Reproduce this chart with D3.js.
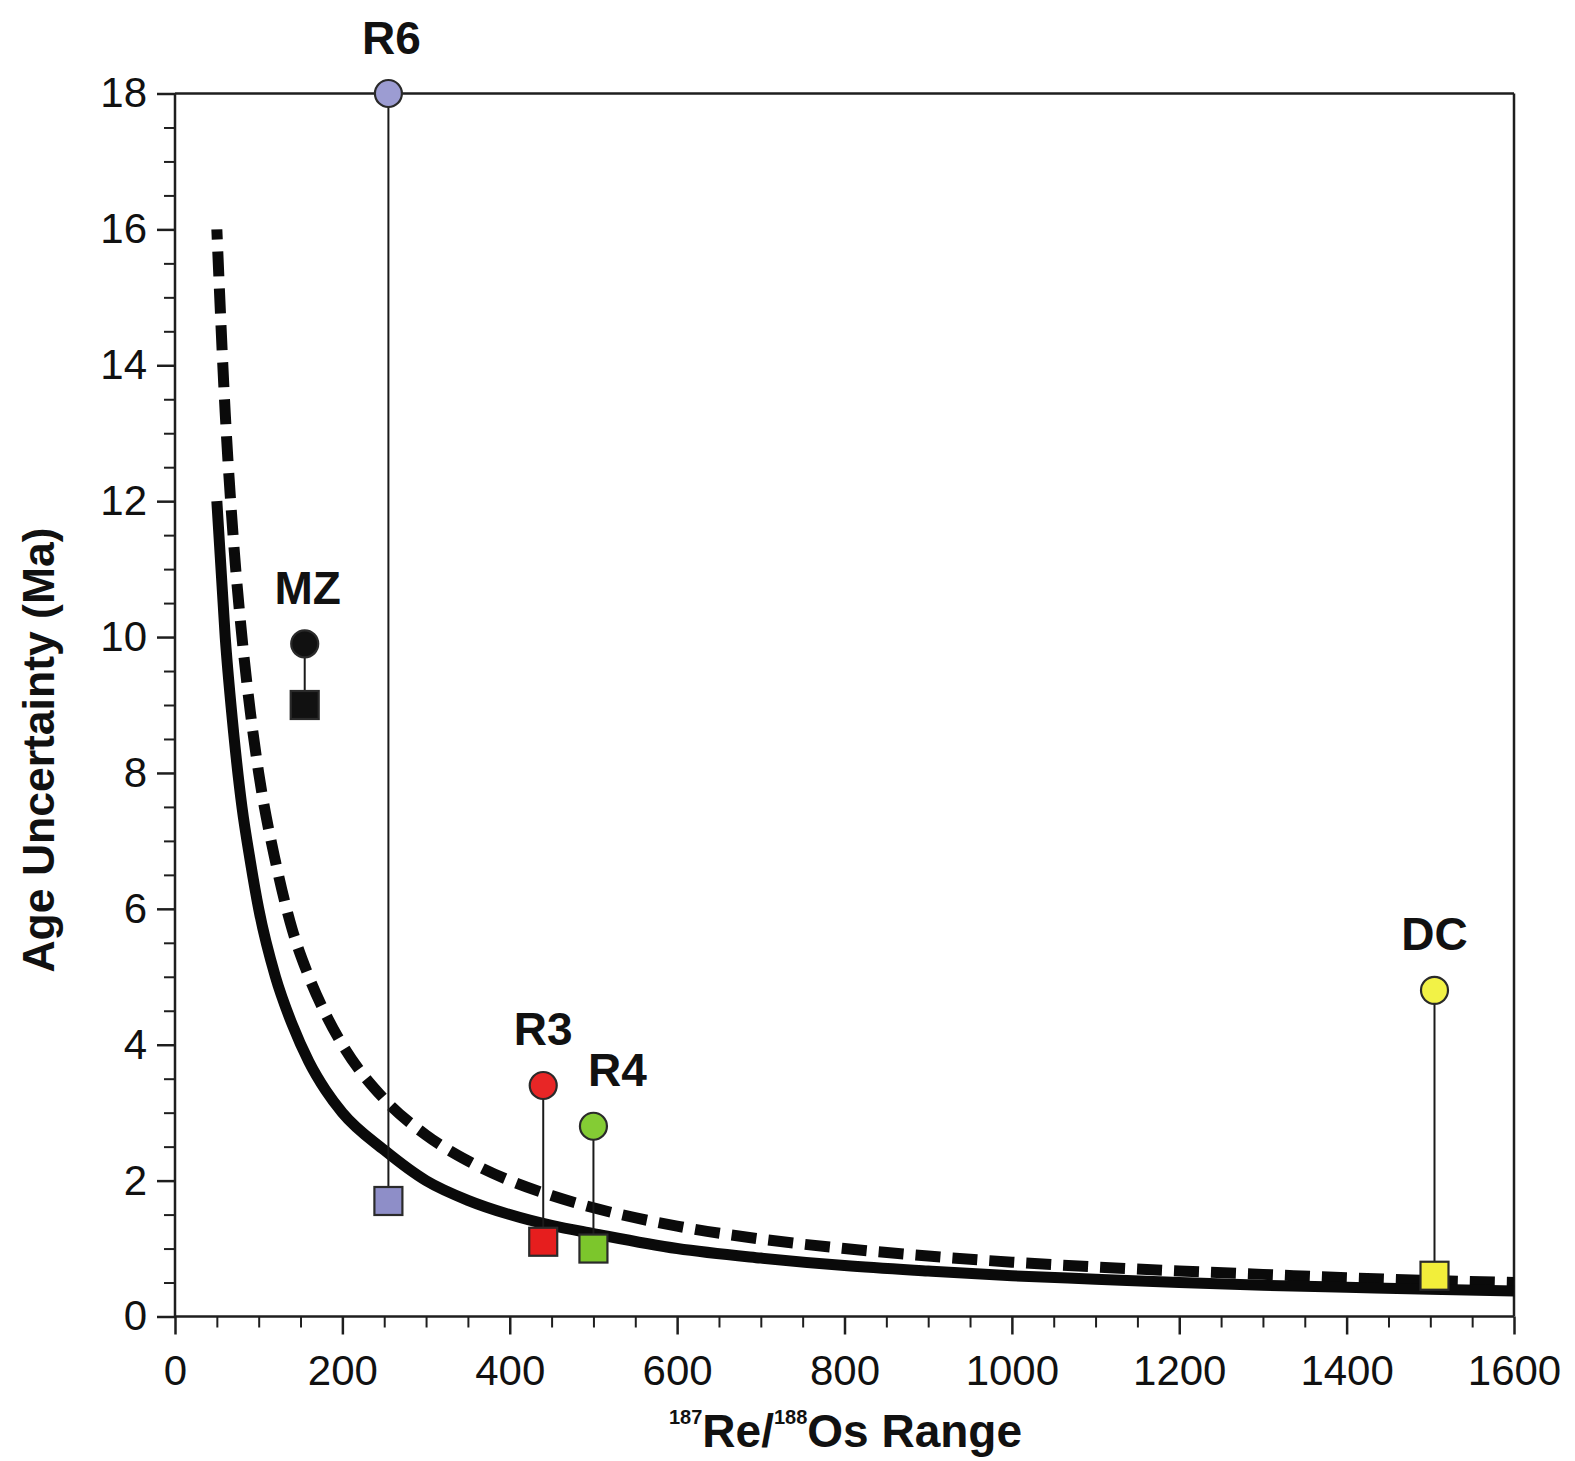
<!DOCTYPE html>
<html>
<head>
<meta charset="utf-8">
<script src="https://cdn.jsdelivr.net/npm/d3@7"></script>
<style>
  html, body { margin: 0; padding: 0; background: #fff; }
  svg { display: block; }
  text { font-family: "Liberation Sans", Arial, Helvetica, sans-serif; fill: #111; }
</style>
</head>
<body>
<svg id="chart" width="1575" height="1461"></svg>
<script>
// 187Re/188Os range values at which the model curves are sampled
const rangeX = [50, 60, 70, 80, 90, 100, 120, 140, 160, 180, 200, 250, 300, 350, 400,
                450, 500, 600, 700, 800, 900, 1000, 1100, 1200, 1300, 1400, 1500, 1600];
// Solid model curve: age uncertainty (Ma)
const solidCurve = [12, 10, 8.6, 7.5, 6.7, 6.0, 5.0, 4.3, 3.75, 3.33, 3.0, 2.45, 2.0, 1.71, 1.5,
                    1.34, 1.22, 1.0, 0.86, 0.75, 0.67, 0.6, 0.55, 0.5, 0.46, 0.43, 0.4, 0.375];
// Dashed model curve: age uncertainty (Ma)
const dashedCurve = [16, 13.3, 11.4, 10, 8.9, 8.0, 6.7, 5.7, 5.0, 4.45, 4.0, 3.2, 2.67, 2.29, 2.0,
                     1.78, 1.6, 1.33, 1.14, 1.0, 0.89, 0.8, 0.73, 0.67, 0.62, 0.57, 0.53, 0.5];

// Sample sets: range, uncertainty shown by circle and by square
const sampleNames   = ["R6", "MZ", "R3", "R4", "DC"];
const sampleRange   = [255, 155, 440, 500, 1505];
const circleAge     = [18, 9.9, 3.4, 2.8, 4.8];
const squareAge     = [1.7, 9.0, 1.1, 1.0, 0.6];
const circleColors  = ["#9c9cd2", "#111111", "#e82626", "#84cc34", "#f2f246"];
const squareColors  = ["#8e8ec8", "#111111", "#e61e1e", "#7cc62c", "#f2ee3a"];

// Axis tick values
const xMajorTicks = [0, 200, 400, 600, 800, 1000, 1200, 1400, 1600];
const yMajorTicks = [0, 2, 4, 6, 8, 10, 12, 14, 16, 18];

const svg = d3.select("#chart");
const plotLeft = 175, plotRight = 1514, plotTop = 93.5, plotBottom = 1316.5;

const x = d3.scaleLinear().domain([0, 1600]).range([plotLeft, plotRight]);
const y = d3.scaleLinear().domain([0, 18]).range([plotBottom, plotTop]);

const axisColor = "#1e1e1e";

// Frame (top and right edges)
svg.append("line").attr("x1", plotLeft).attr("x2", plotRight).attr("y1", plotTop).attr("y2", plotTop)
  .attr("stroke", axisColor).attr("stroke-width", 2.5);
svg.append("line").attr("x1", plotRight).attr("x2", plotRight).attr("y1", plotTop).attr("y2", plotBottom)
  .attr("stroke", axisColor).attr("stroke-width", 2.5);

// Minor ticks
const xMinor = d3.range(0, 1601, 50).filter(v => v % 200 !== 0);
const yMinor = d3.range(0, 18.01, 0.5).filter(v => v % 2 !== 0);

const xAxisMinor = d3.axisBottom(x).tickValues(xMinor).tickSize(11).tickFormat("");
const yAxisMinor = d3.axisLeft(y).tickValues(yMinor).tickSize(11).tickFormat("");

svg.append("g").attr("transform", `translate(0,${plotBottom})`).call(xAxisMinor)
  .call(g => g.select(".domain").remove())
  .call(g => g.selectAll("line").attr("stroke", axisColor).attr("stroke-width", 2));
svg.append("g").attr("transform", `translate(${plotLeft},0)`).call(yAxisMinor)
  .call(g => g.select(".domain").remove())
  .call(g => g.selectAll("line").attr("stroke", axisColor).attr("stroke-width", 2));

// Major axes
const xAxis = d3.axisBottom(x).tickValues(xMajorTicks).tickSize(18).tickSizeOuter(0).tickPadding(21)
  .tickFormat(d3.format("d"));
const yAxis = d3.axisLeft(y).tickValues(yMajorTicks).tickSize(18).tickSizeOuter(0).tickPadding(10)
  .tickFormat(d3.format("d"));

svg.append("g").attr("transform", `translate(0,${plotBottom})`).call(xAxis)
  .call(g => g.select(".domain").attr("stroke", axisColor).attr("stroke-width", 2.5)
    .attr("d", `M${plotLeft},0H${plotRight}`))
  .call(g => g.selectAll(".tick line").attr("stroke", axisColor).attr("stroke-width", 2.5))
  .call(g => g.selectAll(".tick text").attr("font-size", 42).attr("fill", "#111")
    .style("font-family", "'Liberation Sans', Arial, sans-serif"));

svg.append("g").attr("transform", `translate(${plotLeft},0)`).call(yAxis)
  .call(g => g.select(".domain").attr("stroke", axisColor).attr("stroke-width", 2.5)
    .attr("d", `M0,${plotBottom}V${plotTop}`))
  .call(g => g.selectAll(".tick line").attr("stroke", axisColor).attr("stroke-width", 2.5))
  .call(g => g.selectAll(".tick text").attr("font-size", 42).attr("fill", "#111")
    .style("font-family", "'Liberation Sans', Arial, sans-serif"));

// Model curves
const line = d3.line().x(d => x(d[0])).y(d => y(d[1])).curve(d3.curveMonotoneX);

svg.append("path")
  .datum(rangeX.map((v, i) => [v, dashedCurve[i]]))
  .attr("d", line)
  .attr("fill", "none").attr("stroke", "#0a0a0a").attr("stroke-width", 11)
  .attr("stroke-dasharray", "25,12").attr("stroke-dashoffset", 15)
  .attr("stroke-linecap", "butt");

svg.append("path")
  .datum(rangeX.map((v, i) => [v, solidCurve[i]]))
  .attr("d", line)
  .attr("fill", "none").attr("stroke", "#0a0a0a").attr("stroke-width", 11)
  .attr("stroke-linecap", "butt").attr("stroke-linejoin", "round");

// Sample markers: stems, squares, circles and labels
const samples = sampleNames.map((name, i) => ({
  name, range: sampleRange[i], high: circleAge[i], low: squareAge[i],
  circleFill: circleColors[i], squareFill: squareColors[i]
}));

// Horizontal nudge of a few labels so they sit clear of neighbouring marks
const labelShift = { R4: 24, MZ: 3, R6: 3 };

const markers = svg.append("g");

markers.selectAll("line.stem").data(samples).enter().append("line")
  .attr("class", "stem")
  .attr("x1", d => x(d.range)).attr("x2", d => x(d.range))
  .attr("y1", d => y(d.high)).attr("y2", d => y(d.low))
  .attr("stroke", "#1a1a1a").attr("stroke-width", 2);

const sq = 28;
markers.selectAll("rect.sq").data(samples).enter().append("rect")
  .attr("class", "sq")
  .attr("x", d => x(d.range) - sq / 2).attr("y", d => y(d.low) - sq / 2)
  .attr("width", sq).attr("height", sq)
  .attr("fill", d => d.squareFill).attr("stroke", "#2a2a2a").attr("stroke-width", 2.2);

markers.selectAll("circle.high").data(samples).enter().append("circle")
  .attr("class", "high")
  .attr("cx", d => x(d.range)).attr("cy", d => y(d.high)).attr("r", 13.5)
  .attr("fill", d => d.circleFill).attr("stroke", "#2a2a2a").attr("stroke-width", 2.2);

markers.selectAll("text.lbl").data(samples).enter().append("text")
  .attr("class", "lbl")
  .attr("x", d => x(d.range) + (labelShift[d.name] || 0))
  .attr("y", d => y(d.high) - 40)
  .attr("text-anchor", "middle").attr("font-size", 46).attr("font-weight", "bold")
  .text(d => d.name);

// Axis titles
const xt = svg.append("text")
  .attr("x", (plotLeft + plotRight) / 2 + 1).attr("y", 1447)
  .attr("text-anchor", "middle").attr("font-size", 46).attr("font-weight", "bold");
xt.append("tspan").attr("font-size", 20).attr("dy", -23).text("187");
xt.append("tspan").attr("dy", 23).text("Re/");
xt.append("tspan").attr("font-size", 20).attr("dy", -23).text("188");
xt.append("tspan").attr("dy", 23).text("Os Range");

svg.append("text")
  .attr("transform", "translate(54,750) rotate(-90)")
  .attr("text-anchor", "middle").attr("font-size", 44.5).attr("font-weight", "bold")
  .text("Age Uncertainty (Ma)");
</script>
</body>
</html>
